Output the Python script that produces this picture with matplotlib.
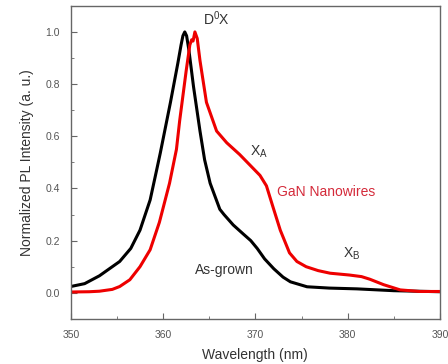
import matplotlib
matplotlib.use("Agg")
import matplotlib.pyplot as plt
from matplotlib.ticker import MultipleLocator, FormatStrFormatter

plt.rcParams['font.family'] = ['Liberation Sans', 'DejaVu Sans']
plt.rcParams['mathtext.fontset'] = 'custom'
plt.rcParams['mathtext.rm'] = 'Liberation Sans'
plt.rcParams['mathtext.it'] = 'Liberation Sans'

# As-grown (black)
wl_black = [350, 351.5, 353.1, 355.3, 356.5, 357.5, 358.6, 359.3, 359.7, 360.8, 361.6, 361.95,
            362.15, 362.35, 362.55, 362.8, 363.3, 364.0, 364.5, 365.1, 366.15, 366.6, 367.6,
            368.7, 369.5, 370.2, 371.0, 372.0, 373.0, 373.8, 375.6, 378.0, 381.0, 385.0, 390.0]
int_black = [0.024, 0.035, 0.065, 0.12, 0.17, 0.24, 0.356, 0.47, 0.536, 0.73, 0.88, 0.95,
             0.985, 1.0, 0.985, 0.93, 0.79, 0.62, 0.51, 0.42, 0.32, 0.30, 0.26,
             0.225, 0.20, 0.17, 0.13, 0.092, 0.06, 0.042, 0.023, 0.018, 0.015, 0.008, 0.004]

# GaN nanowires (red)
wl_red = [350, 352, 353.1, 354.5, 355.3, 356.4, 357.5, 358.6, 359.6, 360.7, 361.45, 361.8,
          362.5, 362.9, 363.1, 363.25, 363.45, 363.7, 364.0, 364.7, 365.3, 365.8, 366.9,
          368.3, 369.4, 370.5, 371.2, 371.9, 372.7, 373.7, 374.5, 375.5, 376.8, 378.1,
          380.2, 381.5, 382.4, 383.9, 385.7, 387.8, 390.0]
int_red = [0.003, 0.004, 0.006, 0.013, 0.024, 0.05, 0.10, 0.165, 0.27, 0.42, 0.55, 0.66,
           0.85, 0.95, 0.97, 0.965, 1.0, 0.975, 0.89, 0.73, 0.67, 0.62, 0.575,
           0.53, 0.49, 0.45, 0.41, 0.33, 0.24, 0.153, 0.12, 0.10, 0.085, 0.075,
           0.068, 0.062, 0.052, 0.031, 0.011, 0.005, 0.005]

fig = plt.figure(figsize=(4.48, 3.64), dpi=100)
ax = fig.add_axes([0.158, 0.124, 0.824, 0.860])

ax.plot(wl_black, int_black, color='black', lw=2.2, solid_joinstyle='round')
ax.plot(wl_red, int_red, color='#ee0000', lw=2.2, solid_joinstyle='round')

ax.set_xlim(350, 390)
ax.set_ylim(-0.1, 1.1)
ax.xaxis.set_major_locator(MultipleLocator(10))
ax.xaxis.set_minor_locator(MultipleLocator(5))
ax.yaxis.set_major_locator(MultipleLocator(0.2))
ax.yaxis.set_minor_locator(MultipleLocator(0.1))
ax.yaxis.set_major_formatter(FormatStrFormatter('%.1f'))

gray = '#555555'
for s in ax.spines.values():
    s.set_color('#666666')
    s.set_linewidth(1.0)
ax.tick_params(which='both', direction='in', colors='#666666', labelcolor=gray, labelsize=7.5)
ax.tick_params(which='major', length=4, pad=8)
ax.tick_params(which='minor', length=2.5)

ax.set_xlabel('Wavelength (nm)', fontsize=10, color='#333333', labelpad=6)
ax.set_ylabel('Normalized PL Intensity (a. u.)', fontsize=10, color='#333333', labelpad=8)

tc = '#333333'
ax.text(364.3, 1.05, r'D$^0$X', fontsize=10, color=tc, ha='left', va='center')
ax.text(370.4, 0.54, r'X$_\mathrm{A}$', fontsize=10, color=tc, ha='center', va='center')
ax.text(372.3, 0.387, 'GaN Nanowires', fontsize=10, color='#d42a3a', ha='left', va='center')
ax.text(380.4, 0.15, r'X$_\mathrm{B}$', fontsize=10, color=tc, ha='center', va='center')
ax.text(363.5, 0.088, 'As-grown', fontsize=10, color=tc, ha='left', va='center')

fig.savefig('out.png', dpi=100)
